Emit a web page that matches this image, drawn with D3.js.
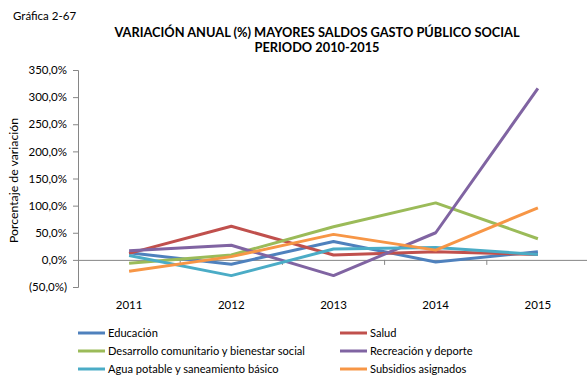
<!DOCTYPE html>
<html>
<head>
<meta charset="utf-8">
<script src="https://d3js.org/d3.v7.min.js"></script>
<style>
  html, body { margin: 0; padding: 0; background: #fff; }
  svg { display: block; font-family: Lato, "Open Sans", sans-serif; }
</style>
</head>
<body>
<svg id="chart" width="587" height="375"></svg>
<script>
// Annual variation (%) of the largest social public spending balances
const years = ["2011", "2012", "2013", "2014", "2015"];
const yTicks = [-50, 0, 50, 100, 150, 200, 250, 300, 350];

const educacion   = [13, -8, 34, -4, 15];
const salud       = [12, 62, 9, 15, 10];
const desarrollo  = [-6, 9, 61, 105, 39];
const recreacion  = [17, 27, -29, 50, 316];
const agua        = [8, -29, 20, 23, 10];
const subsidios   = [-21, 6, 47, 18, 96];

const seriesNames = [
  "Educación", "Salud",
  "Desarrollo comunitario y bienestar social", "Recreación y deporte",
  "Agua potable y saneamiento básico", "Subsidios asignados"
];
const seriesValues = [educacion, salud, desarrollo, recreacion, agua, subsidios];
const colors = ["#4F81BD", "#C0504D", "#9BBB59", "#8064A2", "#4BACC6", "#F79646"];

const svg = d3.select("#chart");
const plotLeft = 78, plotRight = 589, plotTop = 70, plotBottom = 287;

const x = d3.scaleBand().domain(years).range([plotLeft, plotRight]);
const y = d3.scaleLinear().domain([-50, 350]).range([plotBottom, plotTop]);

const fmt = v => v < 0 ? "(" + d3.format(".1f")(-v).replace(".", ",") + "%)"
                       : d3.format(".1f")(v).replace(".", ",") + "%";

// Heading
svg.append("text").attr("x", 13).attr("y", 20)
  .attr("font-size", 11.5).attr("fill", "#000").text("Gráfica 2-67");
svg.append("text").attr("x", 317).attr("y", 37).attr("text-anchor", "middle")
  .attr("font-size", 12.8).attr("font-weight", "bold").attr("fill", "#000")
  .text("VARIACIÓN ANUAL (%) MAYORES SALDOS GASTO PÚBLICO SOCIAL");
svg.append("text").attr("x", 317).attr("y", 52).attr("text-anchor", "middle")
  .attr("font-size", 12.8).attr("font-weight", "bold").attr("fill", "#000")
  .text("PERIODO 2010-2015");

// Y axis
const yAxis = svg.append("g").attr("transform", `translate(${plotLeft},0)`)
  .call(d3.axisLeft(y).tickValues(yTicks).tickFormat(fmt).tickSize(5).tickPadding(6));
yAxis.select(".domain").attr("stroke", "#868686");
yAxis.selectAll(".tick line").attr("stroke", "#868686");
yAxis.selectAll(".tick text").attr("font-size", 11.5).attr("fill", "#000")
  .attr("font-family", "Lato, 'Open Sans', sans-serif");

// Category axis along zero
const xAxis = svg.append("g").attr("transform", `translate(0,${y(0)})`)
  .call(d3.axisBottom(x).tickSize(0).tickFormat(""));
xAxis.select(".domain").attr("stroke", "#868686");
xAxis.selectAll(".tick").remove();
svg.append("g").selectAll("line").data(years.slice(1))
  .join("line")
  .attr("x1", d => x(d)).attr("x2", d => x(d))
  .attr("y1", y(0)).attr("y2", y(0) + 5)
  .attr("stroke", "#868686");

svg.append("g").selectAll("text").data(years).join("text")
  .attr("x", d => x(d) + x.bandwidth() / 2).attr("y", 309)
  .attr("text-anchor", "middle").attr("font-size", 11.5).attr("fill", "#000")
  .text(d => d);

// Y axis title
svg.append("text")
  .attr("transform", `translate(18,${(plotTop + plotBottom) / 2 + 2}) rotate(-90)`)
  .attr("text-anchor", "middle").attr("font-size", 12.3).attr("fill", "#000")
  .text("Porcentaje de variación");

// Lines
const line = d3.line()
  .x((d, i) => x(years[i]) + x.bandwidth() / 2)
  .y(d => y(d));

svg.append("g").selectAll("path").data(seriesValues).join("path")
  .attr("d", d => line(d))
  .attr("fill", "none")
  .attr("stroke", (d, i) => colors[i])
  .attr("stroke-width", 3)
  .attr("stroke-linejoin", "round");

// Legend
const legendRows = [333, 351, 369];
const legend = svg.append("g").selectAll("g").data(seriesNames).join("g")
  .attr("transform", (d, i) => `translate(${i % 2 === 0 ? 78 : 340},${legendRows[Math.floor(i / 2)]})`);
legend.append("line").attr("x1", 0).attr("x2", 27).attr("y1", 0).attr("y2", 0)
  .attr("stroke", (d, i) => colors[i]).attr("stroke-width", 3);
legend.append("text").attr("x", 30).attr("y", 4)
  .attr("font-size", 11.1).attr("fill", "#000").text(d => d);
</script>
</body>
</html>
